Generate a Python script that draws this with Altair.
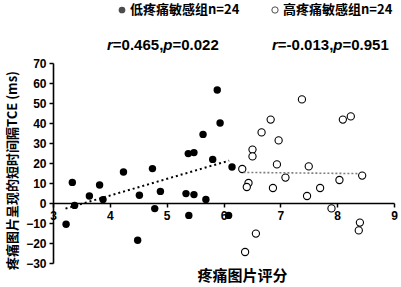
import altair as alt
import pandas as pd

# Low pain-sensitivity group (filled)
low_x = [3.23, 3.34, 3.38, 3.64, 3.82, 3.88, 4.24, 4.52, 4.49, 4.75, 4.79, 4.89,
         5.34, 5.39, 5.38, 5.48, 5.48, 5.64, 5.69, 5.81, 5.89, 5.94, 6.15, 6.09]
low_y = [-10.6, 10.3, -1.2, 3.5, 9.0, 1.7, 15.5, 3.9, -18.6, 17.2, -2.8, 5.8,
         4.7, -6.2, 24.7, 25.2, 4.2, 34.3, 1.8, 21.8, 56.5, 40.0, 18.0, -6.2]
# High pain-sensitivity group (open)
high_x = [7.38, 8.10, 8.24, 6.83, 6.67, 6.97, 6.51, 6.51, 6.94, 7.50, 6.33, 8.44,
          7.09, 8.04, 6.44, 6.41, 6.87, 7.70, 7.47, 7.90, 8.40, 8.38, 6.57, 6.38]
high_y = [51.8, 41.7, 43.3, 41.7, 35.3, 31.3, 26.7, 23.3, 19.3, 18.3, 17.0, 13.7,
          12.7, 11.5, 10.0, 8.0, 7.5, 7.5, 3.5, -2.7, -9.8, -13.7, -15.3, -24.5]
# Trend line endpoints
low_fit_x = [3.22, 6.10]
low_fit_y = [-2.8, 21.2]
high_fit_x = [6.35, 8.39]
high_fit_y = [15.3, 14.7]

x_ticks = [3, 4, 5, 6, 7, 8, 9]
y_ticks = [-30, -20, -10, 0, 10, 20, 30, 40, 50, 60, 70]
legend_labels = ["低疼痛敏感组n=24", "高疼痛敏感组n=24"]
stat_left = [("r", True), ("=0.465,", False), ("p", True), ("=0.022", False)]
stat_right = [("r", True), ("=-0.013,", False), ("p", True), ("=0.951", False)]

W, H = 341, 200
xs = alt.Scale(domain=[3, 9], nice=False, zero=False)
ys = alt.Scale(domain=[-30, 70], nice=False, zero=False)

low = pd.DataFrame({"x": low_x, "y": low_y})
high = pd.DataFrame({"x": high_x, "y": high_y})
lowfit = pd.DataFrame({"x": low_fit_x, "y": low_fit_y})
highfit = pd.DataFrame({"x": high_fit_x, "y": high_fit_y})

xaxis = alt.Axis(values=x_ticks, tickCount=len(x_ticks), format="d", labelOverlap=False,
                 labelFlush=False, offset=-60,
                 domainColor="black", domainWidth=1.6,
                 tickColor="black", tickWidth=1.5, tickSize=4, labelFont="Liberation Sans",
                 labelFontWeight="bold", labelFontSize=12, labelColor="black", labelPadding=3,
                 grid=False, title="疼痛图片评分", titleFont="Noto Sans CJK SC",
                 titleFontSize=15, titleFontWeight="bold", titleColor="black",
                 titleX=189, titleY=72, titleAlign="center", titleBaseline="middle")
yaxis = alt.Axis(values=y_ticks, tickCount=len(y_ticks), format="d", labelOverlap=False,
                 labelFlush=False,
                 domainColor="black", domainWidth=1.6,
                 tickColor="black", tickWidth=1.5, tickSize=4, labelFont="Liberation Sans",
                 labelFontWeight="bold", labelFontSize=12, labelColor="black", labelPadding=3,
                 grid=False, title="疼痛图片呈现的短时间隔TCE (ms)", titleFont="Noto Sans CJK SC",
                 titleFontSize=13, titleFontWeight="bold", titleColor="black",
                 titleAngle=270, titleX=-41, titleY=107, titleAlign="center", titleBaseline="middle")

pts_low = alt.Chart(low).mark_point(filled=True, shape="circle", size=55, color="black", opacity=1).encode(
    x=alt.X("x:Q", scale=xs, axis=xaxis), y=alt.Y("y:Q", scale=ys, axis=yaxis))
pts_high = alt.Chart(high).mark_point(filled=False, shape="circle", size=52, stroke="black",
                                      strokeWidth=1.1, fill="white", fillOpacity=1, opacity=1).encode(
    x=alt.X("x:Q", scale=xs), y=alt.Y("y:Q", scale=ys))
line_low = alt.Chart(lowfit).mark_line(color="black", strokeWidth=2, strokeDash=[2, 3]).encode(
    x=alt.X("x:Q", scale=xs), y=alt.Y("y:Q", scale=ys))
line_high = alt.Chart(highfit).mark_line(color="#7f7f7f", strokeWidth=1.6, strokeDash=[2, 2]).encode(
    x=alt.X("x:Q", scale=xs), y=alt.Y("y:Q", scale=ys))

# legend (manual, above the plot)
leg = pd.DataFrame({"label": legend_labels, "sx": [69, 222], "tx": [77, 230], "y": [-53, -53],
                    "filled": [True, False]})
PX = dict(scale=None, axis=None)
leg_sym_f = alt.Chart(leg[leg["filled"]]).mark_point(filled=True, shape="circle", size=45, color="black").encode(
    x=alt.X("sx:Q", **PX), y=alt.Y("y:Q", **PX))
leg_sym_o = alt.Chart(leg[~leg["filled"]]).mark_point(filled=False, shape="circle", size=40, stroke="black",
                                                     strokeWidth=1).encode(
    x=alt.X("sx:Q", **PX), y=alt.Y("y:Q", **PX))
leg_txt = alt.Chart(leg).mark_text(align="left", baseline="middle", font="Noto Sans CJK SC",
                                   fontSize=13, fontWeight="bold", color="black").encode(
    x=alt.X("tx:Q", **PX), y=alt.Y("y:Q", **PX), text="label:N")

# statistics annotations with italic r and p
widths = {"r": 0.389, "=": 0.584, ".": 0.278, ",": 0.278, "p": 0.611, "-": 0.333}
FS = 15
rows = []
for pieces, x0 in [(stat_left, 54), (stat_right, 219)]:
    cx = x0
    for txt, it in pieces:
        rows.append({"t": txt, "it": it, "px": cx, "py": -18})
        cx += sum(widths.get(c, 0.556) for c in txt) * FS
stats = pd.DataFrame(rows)
st_it = alt.Chart(stats[stats["it"]]).mark_text(align="left", baseline="middle", font="Liberation Sans",
                                                fontSize=FS, fontWeight="bold", fontStyle="italic",
                                                color="black").encode(
    x=alt.X("px:Q", **PX), y=alt.Y("py:Q", **PX), text="t:N")
st_n = alt.Chart(stats[~stats["it"]]).mark_text(align="left", baseline="middle", font="Liberation Sans",
                                                fontSize=FS, fontWeight="bold", color="black").encode(
    x=alt.X("px:Q", **PX), y=alt.Y("py:Q", **PX), text="t:N")

chart = alt.layer(pts_low, pts_high, line_low, line_high, leg_sym_f, leg_sym_o, leg_txt, st_it, st_n).properties(
    width=W, height=H,
    autosize=alt.AutoSizeParams(type="none"),
    padding={"left": 53, "top": 63, "right": 7, "bottom": 24},
    background="white",
).configure_view(stroke=None)

chart.save("out.html", embed_options={"renderer": "svg", "actions": False})
